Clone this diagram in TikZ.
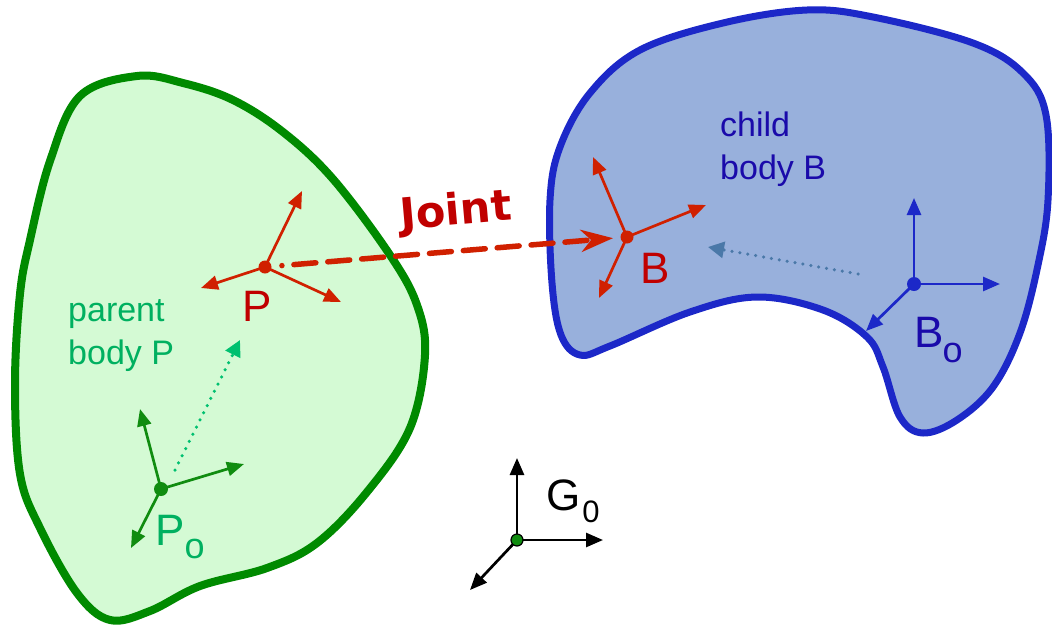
\documentclass[tikz,border=0pt]{standalone}
\usepackage{fontspec}
\setmainfont{Liberation Sans}
\newfontfamily\jointfont{DejaVu Sans}
\usetikzlibrary{arrows.meta}
\definecolor{parentline}{RGB}{0,138,0}
\definecolor{parentfill}{RGB}{212,250,212}
\definecolor{parenttext}{RGB}{0,176,96}
\definecolor{parentaxis}{RGB}{16,140,16}
\definecolor{parentdots}{RGB}{0,192,112}
\definecolor{childline}{RGB}{28,40,200}
\definecolor{childfill}{RGB}{152,176,220}
\definecolor{childtext}{RGB}{26,10,170}
\definecolor{childdots}{RGB}{74,120,168}
\definecolor{jointaxis}{RGB}{208,32,0}
\definecolor{jointtext}{RGB}{192,0,0}
\newcommand{\bigfont}{\fontsize{44}{44}\selectfont}
\newcommand{\withsub}[4]{\bigfont#1\kern#4\raisebox{-#3}{\fontsize{#2}{#2}\selectfont o}}
\begin{document}
\begin{tikzpicture}[x=1pt,y=-1pt,line cap=round,line join=round,
  axis/.style={-{Triangle[length=17pt,width=14pt]},line width=2.7pt},
  trace/.style={-{Triangle[length=16pt,width=16pt]},line width=3.5pt,
    dash pattern=on 0pt off 8pt},
  bodytext/.style={anchor=north west,inner sep=0pt,align=left,
    font=\fontsize{34}{43}\selectfont},
  framelabel/.style={anchor=base west,inner sep=0pt}]
  \clip (0,0) rectangle (1052,625);
  % the two bodies
  \draw[line width=8pt,draw=parentline,fill=parentfill] plot[smooth cycle,tension=0.6]
    coordinates {(137,76) (183,83) (233,100) (283,132) (333,179) (390,255)
      (417,305) (425,355) (410,428) (367,492) (317,543) (267,568) (200,586)
      (150,611) (110,620) (77,593) (40,528) (20,474) (15,384) (20,294)
      (30,240) (50,161) (80,96)};
  \draw[line width=7pt,draw=childline,fill=childfill] plot[smooth cycle,tension=0.6]
    coordinates {(807,10) (873,17) (973,43) (1023,73) (1046,115) (1048,200)
      (1038,265) (1020,333) (993,387) (957,420) (923,433) (900,417) (883,367)
      (867,337) (823,310) (757,297) (690,312) (610,346) (580,355) (561,335)
      (552,283) (550,200) (560,147) (590,93) (640,50) (723,23)};
  % frame points
  \coordinate (P) at (265,267);
  \coordinate (Px) at (341,302);
  \coordinate (Py) at (302,191);
  \coordinate (Pz) at (201,288);
  \coordinate (B) at (627,237);
  \coordinate (Bx) at (706,205);
  \coordinate (By) at (593,157);
  \coordinate (Bz) at (599,298);
  \coordinate (Po) at (161,489);
  \coordinate (Pox) at (244,464);
  \coordinate (Poy) at (140,409);
  \coordinate (Poz) at (131,548);
  \coordinate (Bo) at (914,284);
  \coordinate (Box) at (1000,284);
  \coordinate (Boy) at (914,198);
  \coordinate (Boz) at (866,331);
  \coordinate (G) at (517,540);
  \coordinate (Gx) at (603,540);
  \coordinate (Gy) at (517,458);
  \coordinate (Gz) at (470,590);
  \coordinate (potail) at (175,470);
  \coordinate (pohead) at (240,340);
  \coordinate (botail) at (858,274);
  \coordinate (bohead) at (708,247);
  % offsets
  \draw[trace,parentdots] (potail) -- (pohead);
  \draw[trace,childdots] (botail) -- (bohead);
  % frames
  \draw[axis,jointaxis] (P) -- (Px);
  \draw[axis,jointaxis] (P) -- (Py);
  \draw[axis,jointaxis] (P) -- (Pz);
  \fill[jointaxis] (P) circle (6.5pt);
  \draw[axis,jointaxis] (B) -- (Bx);
  \draw[axis,jointaxis] (B) -- (By);
  \draw[axis,jointaxis] (B) -- (Bz);
  \fill[jointaxis] (B) circle (6.5pt);
  \draw[axis,parentaxis] (Po) -- (Pox);
  \draw[axis,parentaxis] (Po) -- (Poy);
  \draw[axis,parentaxis] (Po) -- (Poz);
  \fill[parentaxis] (Po) circle (7pt);
  \draw[axis,childline] (Bo) -- (Box);
  \draw[axis,childline] (Bo) -- (Boy);
  \draw[axis,childline] (Bo) -- (Boz);
  \fill[childline] (Bo) circle (7pt);
  \draw[axis,black] (G) -- (Gx);
  \draw[axis,black] (G) -- (Gy);
  \draw[axis,black] (G) -- (Gz);
  \filldraw[fill=parentaxis,draw=black,line width=1.2pt] (G) circle (6pt);
  % labels
  \node[framelabel,jointtext] (plbl) at (242,321) {\bigfont P};
  \node[framelabel,jointtext] (blbl) at (640,283) {\bigfont B};
  \node[framelabel,parenttext] (polbl) at (155,545) {\withsub{P}{36}{13pt}{0pt}};
  \node[framelabel,childtext] (bolbl) at (914,347) {\withsub{B}{36}{15pt}{-1pt}};
  \node[framelabel,black] (glbl) at (546,510)
    {\bigfont G\kern2pt\raisebox{-12pt}{\fontsize{31}{31}\selectfont 0}};
  \node[bodytext,parenttext] (ptext) at (68,299) {parent\\body P};
  \node[bodytext,childtext] (btext) at (720,112) {child\\body B};
  % joint
  \draw[jointaxis,line width=5.5pt,shorten <=17pt,shorten >=14pt,
    -{Stealth[length=32pt,width=22pt,inset=10pt]},
    dash pattern=on 0pt off 12pt on 22pt off 12pt on 22pt off 12pt on 22pt off 12pt
      on 22pt off 12pt on 22pt off 12pt on 22pt off 12pt on 22pt off 12pt
      on 22pt off 12pt on 22pt off 12pt on 22pt off 40pt] (P) -- (B);
  \node[jointtext,rotate=5,inner sep=0pt,font=\jointfont\bfseries\fontsize{43}{43}\selectfont]
    (jlbl) at (456,213) {Joint};
\end{tikzpicture}
\end{document}
